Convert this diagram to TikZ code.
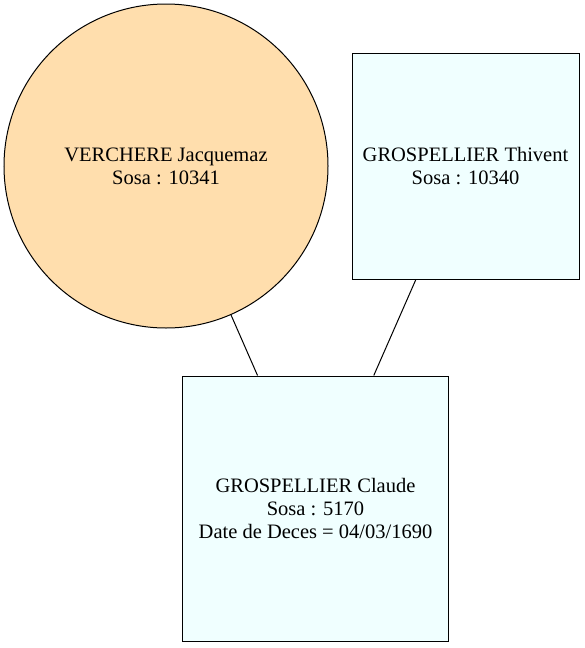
\documentclass[tikz,border=0pt]{standalone}
\usepackage{fontspec}
\setmainfont{Liberation Serif}
\usepackage{tikz}
\usetikzlibrary{shapes,%
                topaths}
\definecolor{navajo}{HTML}{FFDEAD}
\definecolor{azur}{HTML}{F0FFFF}

\begin{document}
\begin{tikzpicture}[x=1pt,y=-1pt]
  \tikzstyle{femme}=[circle, draw=black, fill=navajo, line width=1pt, inner sep=0pt, align=center, font=\fontsize{20.5}{23}\selectfont]
  \tikzstyle{homme}=[rectangle, draw=black, fill=azur, line width=1pt, inner sep=0pt, align=center, font=\fontsize{20.5}{23}\selectfont]
  \useasboundingbox (0,0) rectangle (584,648);
  \node[femme, minimum size=324pt] (verchere) at (166,166) {VERCHERE Jacquemaz\\Sosa : 10341};
  \node[homme, minimum width=227pt, minimum height=226pt] (thivent) at (465.5,166) {GROSPELLIER Thivent\\Sosa : 10340};
  \node[homme, minimum width=266pt, minimum height=265pt] (claude) at (315.5,508.5) {GROSPELLIER Claude\\Sosa : 5170\\Date de Deces = 04/03/1690}
    edge [line width=1pt] (verchere)
    edge [line width=1pt] (thivent);
\end{tikzpicture}
\end{document}
